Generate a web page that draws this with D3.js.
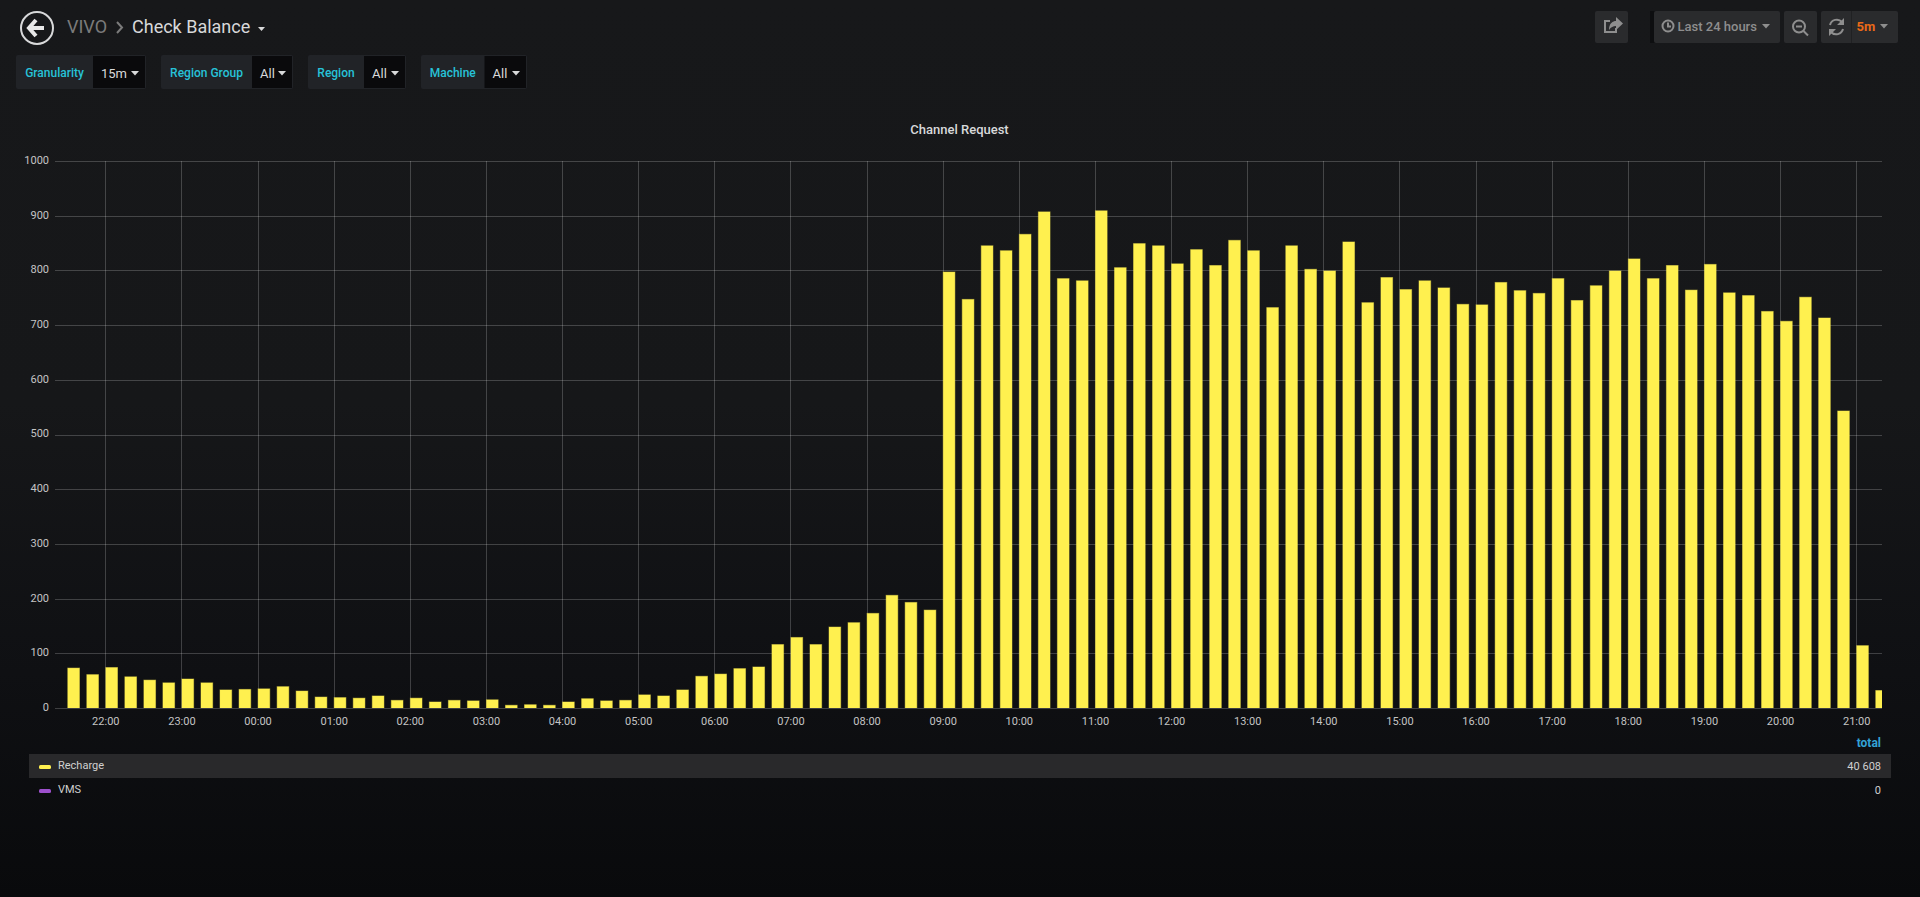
<!DOCTYPE html>
<html lang="en">
<head>
  <meta charset="UTF-8" />
  <title>VIVO - Check Balance</title>
  <script src="https://d3js.org/d3.v7.min.js"></script>
  <style>
    html, body {
      margin: 0;
      padding: 0;
      height: 100%;
      overflow: hidden;
      background: linear-gradient(#17181a 0%, #161719 45%, #0f1013 75%, #090a0c 100%);
    }
    svg { display: block; font-family: Roboto, sans-serif; }
    .axis text { font-family: Roboto, sans-serif; font-size: 11px; fill: #c4c4c4; }
    .axis line { stroke: #fff; stroke-opacity: 0.2; shape-rendering: crispEdges; }
    .axis path { display: none; }
    .bar { fill: #fff04f; stroke: #fff04f; stroke-opacity: 0.45; stroke-width: 1px; }
    .var-label { font-size: 12px; font-weight: 500; fill: #27c2d8; }
    .var-value { font-size: 13px; fill: #d8d9da; }
    .legend-text { font-size: 11px; fill: #d0d0d0; }
    .tool { fill: #2a2b2d; }
    .icon { fill: none; stroke: #8e8e8e; stroke-width: 2px; }
  </style>
</head>
<body>
  <svg id="chart"></svg>

  <script>
    // requests per 15m bucket, first bucket is 21:30
    const requests = [
      73, 61, 74, 57, 51, 46, 53, 46, 33, 34, 35, 39, 31, 20, 19, 18,
      22, 14, 18, 11, 14, 13, 15, 5, 6, 5, 11, 17, 13, 14, 24, 22,
      33, 58, 62, 72, 75, 116, 129, 116, 148, 156, 173, 206, 193, 179,
      797, 747, 845, 836, 866, 907, 785, 781, 909, 805, 849, 845, 812, 838, 809, 855,
      836, 732, 845, 802, 799, 852, 741, 787, 765, 781, 768, 738, 737, 778, 763, 758,
      785, 745, 772, 799, 821, 785, 809, 764, 811, 759, 754, 725, 707, 751, 713, 543,
      114, 32
    ];
    const yTicks = [0, 100, 200, 300, 400, 500, 600, 700, 800, 900, 1000];
    const seriesNames = ["Recharge", "VMS"];
    const seriesTotals = ["40 608", "0"];
    const seriesColors = ["#fff04f", "#9d50cc"];
    const varNames = ["Granularity", "Region Group", "Region", "Machine"];
    const varValues = ["15m", "All", "All", "All"];

    const width = 1920, height = 897;
    const margin = { top: 161, right: 38, bottom: 189, left: 55 };

    const svg = d3.select("#chart").attr("width", width).attr("height", height);

    const x = d3.scaleTime()
      .domain([new Date(2019, 0, 1, 21, 20, 20), new Date(2019, 0, 2, 21, 20, 20)])
      .range([margin.left, width - margin.right]);
    const y = d3.scaleLinear()
      .domain([0, 1000])
      .range([height - margin.bottom, margin.top]);

    const firstBucket = new Date(2019, 0, 1, 21, 30);

    // axes + grid
    svg.append("g")
      .attr("class", "axis")
      .attr("transform", `translate(0,${height - margin.bottom})`)
      .call(d3.axisBottom(x)
        .ticks(d3.timeHour.every(1))
        .tickFormat(d3.timeFormat("%H:%M"))
        .tickSizeInner(-(height - margin.top - margin.bottom))
        .tickSizeOuter(0)
        .tickPadding(9));

    svg.append("g")
      .attr("class", "axis")
      .attr("transform", `translate(${margin.left},0)`)
      .call(d3.axisLeft(y)
        .tickValues(yTicks)
        .tickFormat(d3.format("d"))
        .tickSizeInner(-(width - margin.left - margin.right))
        .tickSizeOuter(0)
        .tickPadding(6))
      .selectAll("text")
      .attr("dy", "0.22em");

    svg.append("clipPath").attr("id", "plot-clip")
      .append("rect")
      .attr("x", margin.left)
      .attr("y", margin.top - 2)
      .attr("width", width - margin.left - margin.right)
      .attr("height", height - margin.top - margin.bottom + 2);

    // stroke sits inside the 10 minute slot
    svg.append("g")
      .attr("clip-path", "url(#plot-clip)")
      .selectAll("rect")
      .data(requests)
      .join("rect")
      .attr("class", "bar")
      .attr("x", (d, i) => x(d3.timeMinute.offset(firstBucket, i * 15)) + 0.5)
      .attr("y", d => y(d))
      .attr("width", (d, i) => {
        const t = d3.timeMinute.offset(firstBucket, i * 15);
        return x(d3.timeMinute.offset(t, 10)) - x(t) - 1;
      })
      .attr("height", d => y(0) - y(d));

    // panel title
    svg.append("text")
      .attr("x", 959.5)
      .attr("y", 134)
      .attr("text-anchor", "middle")
      .attr("font-size", 13)
      .attr("font-weight", 500)
      .attr("fill", "#d8d9da")
      .text("Channel Request");

    // legend
    svg.append("text")
      .attr("x", 1881)
      .attr("y", 747)
      .attr("text-anchor", "end")
      .attr("font-size", 12)
      .attr("font-weight", 700)
      .attr("fill", "#33a2d5")
      .text("total");

    svg.append("rect")
      .attr("x", 29).attr("y", 754)
      .attr("width", 1862).attr("height", 24)
      .attr("fill", "#29292b");

    seriesNames.forEach((name, i) => {
      const rowY = 766 + i * 24;
      svg.append("rect")
        .attr("x", 39).attr("y", rowY - 1)
        .attr("width", 12).attr("height", 4)
        .attr("rx", 1.5)
        .attr("fill", seriesColors[i]);
      svg.append("text")
        .attr("class", "legend-text")
        .attr("x", 58).attr("y", rowY + 3)
        .text(name);
      svg.append("text")
        .attr("class", "legend-text")
        .attr("x", 1881).attr("y", rowY + 4)
        .attr("text-anchor", "end")
        .text(seriesTotals[i]);
    });

    // header: back button and breadcrumb
    const head = svg.append("g");
    head.append("circle")
      .attr("cx", 37).attr("cy", 28).attr("r", 16)
      .attr("fill", "none").attr("stroke", "#d8d9da").attr("stroke-width", 2);
    head.append("path")
      .attr("d", "M36 20 L29 28 L36 36 M30 28 L44 28")
      .attr("fill", "none").attr("stroke", "#e8e8e8").attr("stroke-width", 4);

    head.append("text")
      .attr("x", 67).attr("y", 33)
      .attr("font-size", 18).attr("fill", "#7b7b7b")
      .text("VIVO");
    head.append("path")
      .attr("d", "M117 22 L122 27.5 L117 33")
      .attr("fill", "none").attr("stroke", "#7b7b7b").attr("stroke-width", 2);
    head.append("text")
      .attr("x", 132).attr("y", 33)
      .attr("font-size", 18).attr("fill", "#d8d9da")
      .text("Check Balance");
    head.append("path")
      .attr("d", "M258 27 h7 l-3.5 4 z")
      .attr("fill", "#d8d9da");

    // template variables: label start, value start, box end
    const varBoxes = [[16, 93, 146], [161, 252, 293], [308, 364, 406], [421, 484.5, 527]];
    varNames.forEach((name, i) => {
      const [x0, x1, x2] = varBoxes[i];
      svg.append("rect")
        .attr("x", x0).attr("y", 55)
        .attr("width", x2 - x0).attr("height", 34)
        .attr("rx", 2)
        .attr("fill", "#212327");
      svg.append("rect")
        .attr("x", x1).attr("y", 56)
        .attr("width", x2 - x1 - 1).attr("height", 32)
        .attr("fill", "#0a0a0c");
      svg.append("text")
        .attr("class", "var-label")
        .attr("x", (x0 + x1) / 2).attr("y", 77)
        .attr("text-anchor", "middle")
        .text(name);
      svg.append("text")
        .attr("class", "var-value")
        .attr("x", x1 + 8).attr("y", 78)
        .text(varValues[i]);
      svg.append("path")
        .attr("d", `M${x2 - 15} 71 h8 l-4 4.5 z`)
        .attr("fill", "#d8d9da");
    });

    // top right toolbar
    const tools = svg.append("g");
    tools.append("rect").attr("x", 1650).attr("y", 11)
      .attr("width", 6).attr("height", 32).attr("fill", "#0d0e10");
    [[1595, 33], [1654, 126], [1784, 33], [1821, 77]].forEach(([bx, bw]) => {
      tools.append("rect")
        .attr("class", "tool")
        .attr("x", bx).attr("y", 11)
        .attr("width", bw).attr("height", 32)
        .attr("rx", 2);
    });
    tools.append("line")
      .attr("x1", 1851.5).attr("x2", 1851.5)
      .attr("y1", 11).attr("y2", 43)
      .attr("stroke", "#202123");

    // share icon
    tools.append("path").attr("class", "icon")
      .attr("d", "M1616 28 v4 h-11 v-11 h5");
    tools.append("path")
      .attr("d", "M1609 30 c0-7 4-9 7-9 v-4 l7 6.5 l-7 6.5 v-4 c-3 0-5 1-7 4 z")
      .attr("fill", "#8e8e8e");

    // clock
    tools.append("circle").attr("class", "icon")
      .attr("cx", 1668).attr("cy", 26).attr("r", 5.5);
    tools.append("path").attr("class", "icon").attr("stroke-width", 1.2)
      .attr("d", "M1668 22.5 V26.5 H1671");
    tools.append("text")
      .attr("x", 1677.5).attr("y", 31)
      .attr("font-size", 13).attr("font-weight", 500).attr("fill", "#8e8e8e")
      .text("Last 24 hours");
    tools.append("path").attr("d", "M1762 24 h8 l-4 4.5 z").attr("fill", "#8e8e8e");

    // zoom out
    tools.append("circle").attr("class", "icon")
      .attr("cx", 1799).attr("cy", 26.5).attr("r", 6);
    tools.append("path").attr("class", "icon")
      .attr("d", "M1796 26.5 h6 M1803.5 31 L1808 35.5");

    // refresh
    tools.append("path").attr("class", "icon").attr("stroke-width", 2.8)
      .attr("d", "M1830 25 a7 7 0 0 1 12 -3 M1843 29 a7 7 0 0 1 -12 3");
    tools.append("path").attr("d", "M1844 18 v7 h-7 z M1829 36 v-7 h7 z").attr("fill", "#8e8e8e");

    tools.append("text")
      .attr("x", 1856.5).attr("y", 31)
      .attr("font-size", 13).attr("font-weight", 700).attr("fill", "#eb6a18")
      .text("5m");
    tools.append("path").attr("d", "M1880 24 h8 l-4 4.5 z").attr("fill", "#8e8e8e");
  </script>
</body>
</html>
